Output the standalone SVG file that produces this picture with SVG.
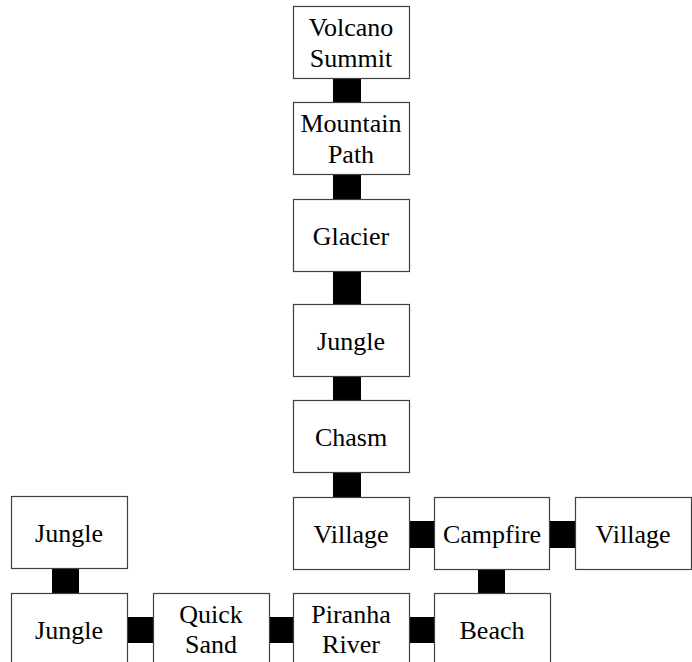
<svg xmlns="http://www.w3.org/2000/svg" width="692" height="662" viewBox="0 0 692 662">
<style>
.box{fill:#fff;stroke:#404040;stroke-width:1.2}
.con{fill:#000}
text{font-family:"Liberation Serif","Times New Roman",serif;font-size:26px;fill:#000;text-anchor:middle}
</style>
<rect width="692" height="662" fill="#fff"/>
<g id="connectors">
<rect class="con" x="333" y="77" width="28" height="26"/>
<rect class="con" x="333" y="174" width="28" height="26"/>
<rect class="con" x="333" y="270" width="28" height="35"/>
<rect class="con" x="333" y="375" width="28" height="26"/>
<rect class="con" x="333" y="471" width="28" height="27"/>
<rect class="con" x="408" y="521" width="27" height="27"/>
<rect class="con" x="549" y="521" width="27" height="27"/>
<rect class="con" x="478" y="568" width="27" height="26"/>
<rect class="con" x="52" y="568" width="27" height="26"/>
<rect class="con" x="126" y="617" width="28" height="26"/>
<rect class="con" x="268" y="617" width="26" height="26"/>
<rect class="con" x="408" y="617" width="27" height="26"/>
</g>
<g id="volcano"><rect class="box" x="293.5" y="6.5" width="116" height="72"/><text x="351" y="36">Volcano</text><text x="351" y="67">Summit</text></g>
<g id="mountain"><rect class="box" x="293.5" y="102.5" width="116" height="72"/><text x="351" y="132">Mountain</text><text x="351" y="163">Path</text></g>
<g id="glacier"><rect class="box" x="293.5" y="199.5" width="116" height="72"/><text x="351" y="245">Glacier</text></g>
<g id="jungle1"><rect class="box" x="293.5" y="304.5" width="116" height="72"/><text x="351" y="350">Jungle</text></g>
<g id="chasm"><rect class="box" x="293.5" y="400.5" width="116" height="72"/><text x="351" y="446">Chasm</text></g>
<g id="village1"><rect class="box" x="293.5" y="497.5" width="116" height="72"/><text x="351" y="543">Village</text></g>
<g id="campfire"><rect class="box" x="434.5" y="497.5" width="115" height="72"/><text x="492" y="543">Campfire</text></g>
<g id="village2"><rect class="box" x="575.5" y="497.5" width="116" height="72"/><text x="633" y="543">Village</text></g>
<g id="jungle2"><rect class="box" x="11.5" y="496.5" width="116" height="72"/><text x="69" y="542">Jungle</text></g>
<g id="jungle3"><rect class="box" x="11.5" y="593.5" width="116" height="72"/><text x="69" y="639">Jungle</text></g>
<g id="quicksand"><rect class="box" x="153.5" y="593.5" width="116" height="72"/><text x="211" y="623">Quick</text><text x="211" y="653">Sand</text></g>
<g id="piranha"><rect class="box" x="293.5" y="593.5" width="116" height="72"/><text x="351" y="623">Piranha</text><text x="351" y="653">River</text></g>
<g id="beach"><rect class="box" x="434.5" y="593.5" width="116" height="72"/><text x="492" y="639">Beach</text></g>
</svg>
